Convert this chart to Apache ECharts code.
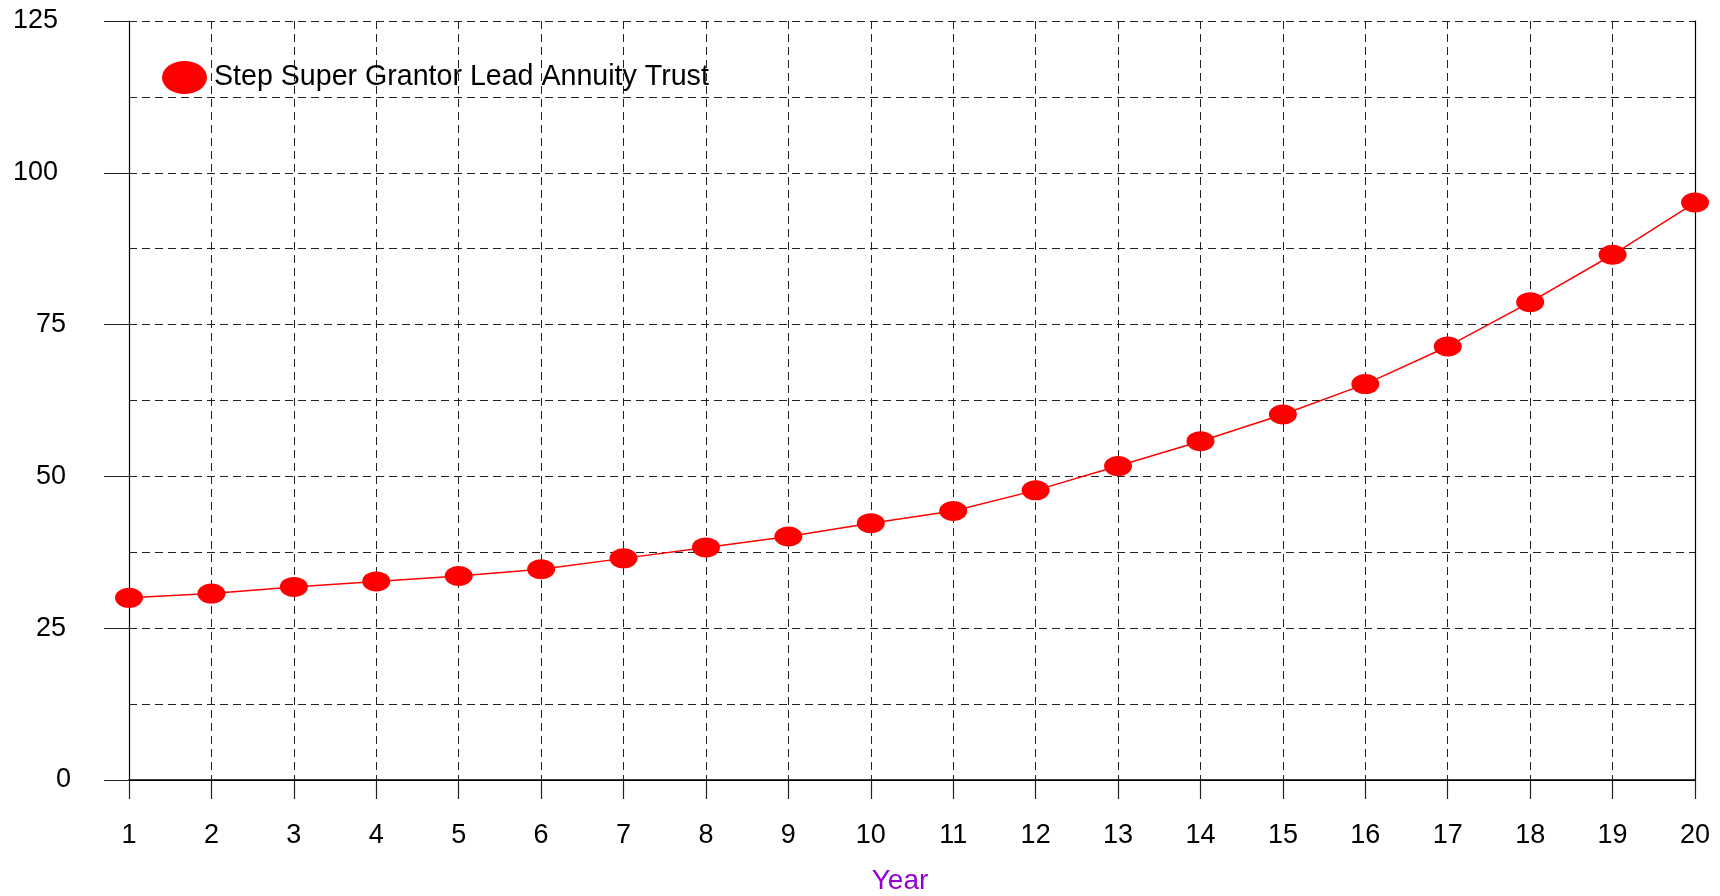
<!DOCTYPE html>
<html>
<head>
<meta charset="utf-8">
<script src="https://cdn.jsdelivr.net/npm/echarts@6/dist/echarts.min.js"></script>
<style>html,body{margin:0;padding:0;background:#fff}#c{width:1720px;height:896px}</style>
</head>
<body>
<div id="c"></div>
<script>
var years = ['1','2','3','4','5','6','7','8','9','10','11','12','13','14','15','16','17','18','19','20'];
var trustValues = [30.0, 30.7, 31.8, 32.7, 33.6, 34.7, 36.5, 38.3, 40.1, 42.3, 44.3, 47.7, 51.7, 55.8, 60.2, 65.2, 71.4, 78.7, 86.5, 95.1];
var seriesName = 'Step Super Grantor Lead Annuity Trust';
var xAxisName = 'Year';

var font = 'Liberation Sans, Arial, sans-serif';
var chart = echarts.init(document.getElementById('c'), null, {renderer: 'canvas'});
chart.setOption({
  animation: false,
  backgroundColor: '#fff',
  grid: {left: 129, right: 25, top: 21, bottom: 116, containLabel: false, outerBoundsMode: 'none'},
  legend: {
    left: 157, top: 56,
    itemWidth: 45, itemHeight: 33,
    icon: 'path://M0,10a10,10 0 1,0 20,0a10,10 0 1,0 -20,0z',
    symbolKeepAspect: false,
    itemStyle: {color: '#ff0000'},
    textStyle: {fontFamily: font, fontSize: 28.6, color: '#000', padding: [0, 0, 0, 2]},
    data: [seriesName]
  },
  xAxis: [{
    type: 'category',
    data: years,
    boundaryGap: false,
    name: xAxisName,
    nameLocation: 'middle',
    nameGap: 87,
    nameTextStyle: {fontFamily: font, fontSize: 28, color: '#9400d3', padding: [0, 24, 0, 0]},
    axisLine: {show: true, lineStyle: {color: '#000', width: 1.5}},
    axisTick: {show: true, alignWithLabel: true, length: 19, lineStyle: {color: '#222', width: 1.2}},
    axisLabel: {fontFamily: font, fontSize: 27, color: '#000', margin: 42, interval: 0},
    splitLine: {show: true, lineStyle: {color: '#222', type: [8, 5], width: 1}}
  }, {
    type: 'category',
    data: years,
    boundaryGap: false,
    position: 'top',
    axisLine: {show: true, lineStyle: {color: '#000', width: 1.2}},
    axisTick: {show: false},
    axisLabel: {show: false},
    splitLine: {show: false}
  }],
  yAxis: [{
    type: 'value',
    min: 0, max: 125, interval: 25,
    axisLine: {show: true, lineStyle: {color: '#000', width: 1.2}},
    axisTick: {show: true, length: 25, lineStyle: {color: '#222', width: 1}},
    axisLabel: {
      fontFamily: font, fontSize: 27, color: '#000', margin: 58,
      formatter: function (v) {
        var s = String(v);
        return s.length >= 3 ? '{w|' + s + '}' : (s.length === 2 ? '{m|' + s + '}' : '{n|' + s + '}');
      },
      rich: {
        w: {fontFamily: font, fontSize: 27, color: '#000', padding: [0, 13, 0, 0]},
        m: {fontFamily: font, fontSize: 27, color: '#000', padding: [0, 5, 0, 0]},
        n: {fontFamily: font, fontSize: 27, color: '#000'}
      }
    },
    splitLine: {show: true, lineStyle: {color: '#222', type: [8, 5], width: 1}},
    minorTick: {show: false, splitNumber: 2},
    minorSplitLine: {show: true, lineStyle: {color: '#222', type: [8, 5], width: 1}}
  }, {
    type: 'value',
    min: 0, max: 125, interval: 25,
    position: 'right',
    axisLine: {show: true, lineStyle: {color: '#000', width: 1.2}},
    axisTick: {show: false},
    axisLabel: {show: false},
    splitLine: {show: false}
  }],
  series: [{
    name: seriesName,
    type: 'line',
    data: trustValues,
    symbol: 'circle',
    symbolSize: [28, 20],
    showAllSymbol: true,
    lineStyle: {color: '#ff0000', width: 1.5},
    itemStyle: {color: '#ff0000'},
    z: 5
  }]
});
</script>
</body>
</html>
